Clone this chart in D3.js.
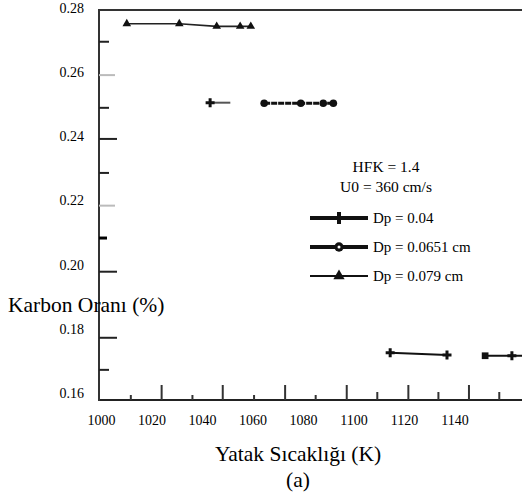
<!DOCTYPE html>
<html>
<head>
<meta charset="utf-8">
<script src="https://cdn.jsdelivr.net/npm/d3@7"></script>
<style>
  body { margin: 0; background: #fff; }
  svg { display: block; font-family: "Liberation Serif", "Times New Roman", serif; }
</style>
</head>
<body>
<div id="chart"></div>
<script>
// data
var tempTriangle = [1010.0, 1030.8, 1045.6, 1054.9, 1059.1];
var carbonTriangle = [0.2751, 0.2751, 0.2743, 0.2743, 0.2743];

var tempCircle = [1043.0, 1064.4, 1078.9, 1087.8, 1091.8];
var carbonCircle = [0.2505, 0.2503, 0.2503, 0.2503, 0.2503];

var tempPlus = [1114.3, 1136.8, 1151.9, 1162.5, 1172.0];
var carbonPlus = [0.1725, 0.1718, 0.1716, 0.1716, 0.1716];

var xTickLabels = [1000, 1020, 1040, 1060, 1080, 1100, 1120, 1140];
var yTickLabels = [0.16, 0.18, 0.20, 0.22, 0.24, 0.26, 0.28];
var xMinorTicks = [1011.6, 1023.8, 1036.0, 1048.0, 1060.4, 1072.7, 1084.8, 1097.1, 1109.2, 1121.5, 1133.4, 1145.5, 1157.5];
var yMinorTicks = [0.2695, 0.2591, 0.2489, 0.2392, 0.2286, 0.2184, 0.2083, 0.1978, 0.1772, 0.1672];

var legendLabels = ['Dp = 0.04', 'Dp = 0.0651 cm', 'Dp = 0.079 cm'];
var noteLines = ['HFK = 1.4', 'U0 = 360 cm/s'];

// layout / styles
var W = 522, H = 493;
var pLeft = 99, pRight = 522, pTop = 10, pBottom = 400;
var xTickLen = [5, 15, 5, 15, 5, 15, 5, 15, 8, 15, 8, 15, 8];
var yTickLen = [10, 16, 10, 18, 10, 16, 8, 18, 18, 10];
var yTickCol = ['#222', '#bbb', '#222', '#222', '#222', '#bbb', '#000', '#222', '#222', '#222'];
var yTickW = [2, 2, 2, 2, 2, 2, 3, 2, 2, 2];

var x = d3.scaleLinear().domain([999.0, 1166.5]).range([pLeft, pRight]);
var y = d3.scaleLinear().domain([0.1578, 0.2794]).range([pBottom, pTop]);

var svg = d3.select('#chart').append('svg')
    .attr('width', W)
    .attr('height', H);

svg.append('defs').append('clipPath').attr('id', 'plotclip')
    .append('rect')
    .attr('x', pLeft).attr('y', 0)
    .attr('width', pRight - pLeft).attr('height', pBottom);

// frame lines
svg.append('line')
    .attr('x1', pLeft).attr('x2', pRight).attr('y1', pTop).attr('y2', pTop)
    .style('stroke', '#333').style('stroke-width', 2);
svg.append('line')
    .attr('x1', pLeft).attr('x2', pRight).attr('y1', pBottom).attr('y2', pBottom)
    .style('stroke', '#222').style('stroke-width', 2);
svg.append('line')
    .attr('x1', pLeft).attr('x2', pLeft).attr('y1', pTop - 1).attr('y2', pBottom + 1)
    .style('stroke', '#333').style('stroke-width', 2);

// inward ticks
svg.append('g').selectAll('line')
    .data(xMinorTicks)
    .enter()
    .append('line')
    .attr('x1', function (d) { return x(d); })
    .attr('x2', function (d) { return x(d); })
    .attr('y1', pBottom)
    .attr('y2', function (d, i) { return pBottom - xTickLen[i]; })
    .style('stroke', '#333')
    .style('stroke-width', 2);

svg.append('g').selectAll('line')
    .data(yMinorTicks)
    .enter()
    .append('line')
    .attr('x1', pLeft)
    .attr('x2', function (d, i) { return pLeft + yTickLen[i]; })
    .attr('y1', function (d) { return y(d); })
    .attr('y2', function (d) { return y(d); })
    .style('stroke', function (d, i) { return yTickCol[i]; })
    .style('stroke-width', function (d, i) { return yTickW[i]; });

// tick labels
svg.append('g').selectAll('text')
    .data(xTickLabels)
    .enter()
    .append('text')
    .attr('x', function (d) { return x(d); })
    .attr('y', 425)
    .attr('text-anchor', 'middle')
    .style('font-size', '14px')
    .text(function (d) { return d; });

svg.append('g').selectAll('text')
    .data(yTickLabels)
    .enter()
    .append('text')
    .attr('x', 84)
    .attr('y', function (d) { return y(d); })
    .attr('dy', '0.35em')
    .attr('text-anchor', 'end')
    .style('font-size', '14px')
    .text(function (d) { return d.toFixed(2); });

// axis titles
svg.append('text')
    .attr('x', 8).attr('y', 304).attr('dy', '0.35em')
    .style('font-size', '21.5px')
    .text('Karbon Oranı (%)');

svg.append('text')
    .attr('x', 298).attr('y', 453).attr('dy', '0.35em')
    .attr('text-anchor', 'middle')
    .style('font-size', '21.5px')
    .text('Yatak Sıcaklığı (K)');

svg.append('text')
    .attr('x', 298).attr('y', 479).attr('dy', '0.35em')
    .attr('text-anchor', 'middle')
    .style('font-size', '21.5px')
    .text('(a)');

// series
var plot = svg.append('g').attr('clip-path', 'url(#plotclip)');

function toPoints(xs, ys) {
    return xs.map(function (d, i) { return [d, ys[i]]; });
}

var line = d3.line()
    .x(function (d) { return x(d[0]); })
    .y(function (d) { return y(d[1]); });

var triPts = toPoints(tempTriangle, carbonTriangle);
var cirPts = toPoints(tempCircle, carbonCircle);
var plusPts = toPoints(tempPlus, carbonPlus);

var symTri = d3.symbol().type(d3.symbolTriangle).size(32);
var symCir = d3.symbol().type(d3.symbolCircle).size(45);
var symPlus = d3.symbol().type(d3.symbolCross).size(45);
var symSq = d3.symbol().type(d3.symbolSquare).size(45);

// triangle series: one line through all points
plot.append('path')
    .attr('d', line(triPts))
    .style('fill', 'none').style('stroke', '#222').style('stroke-width', 1.6);

// circle series: first point stands apart with a short tail
plot.append('path')
    .attr('d', line(cirPts.slice(1)))
    .style('fill', 'none').style('stroke', '#111').style('stroke-width', 3)
    .style('stroke-dasharray', '6,1');
plot.append('path')
    .attr('d', line([cirPts[0], [cirPts[0][0] + 8, cirPts[0][1]]]))
    .style('fill', 'none').style('stroke', '#555').style('stroke-width', 2);

// plus series: two groups
plot.append('path')
    .attr('d', line(plusPts.slice(0, 2)))
    .style('fill', 'none').style('stroke', '#111').style('stroke-width', 2);
plot.append('path')
    .attr('d', line(plusPts.slice(2)))
    .style('fill', 'none').style('stroke', '#111').style('stroke-width', 2);

plot.append('g').selectAll('path')
    .data(triPts)
    .enter()
    .append('path')
    .attr('transform', function (d) { return 'translate(' + x(d[0]) + ',' + y(d[1]) + ')'; })
    .attr('d', symTri)
    .style('fill', '#111');

plot.append('g').selectAll('path')
    .data(cirPts)
    .enter()
    .append('path')
    .attr('transform', function (d) { return 'translate(' + x(d[0]) + ',' + y(d[1]) + ')'; })
    .attr('d', function (d, i) { return i === 0 ? symPlus() : symCir(); })
    .style('fill', '#111');

plot.append('g').selectAll('path')
    .data(plusPts)
    .enter()
    .append('path')
    .attr('transform', function (d) { return 'translate(' + x(d[0]) + ',' + y(d[1]) + ')'; })
    .attr('d', function (d, i) { return i === 2 ? symSq() : symPlus(); })
    .style('fill', '#111');

// note + legend
svg.append('g').selectAll('text')
    .data(noteLines)
    .enter()
    .append('text')
    .attr('x', 386)
    .attr('y', function (d, i) { return 167 + i * 20; })
    .attr('dy', '0.35em')
    .attr('text-anchor', 'middle')
    .style('font-size', '15.5px')
    .text(function (d) { return d; });

var legendY = [218, 247, 276];
var legendW = [4, 4, 2];
var legendSym = [
    d3.symbol().type(d3.symbolCross).size(80),
    d3.symbol().type(d3.symbolCircle).size(70),
    d3.symbol().type(d3.symbolTriangle).size(55)
];

var leg = svg.append('g').selectAll('g')
    .data(legendLabels)
    .enter()
    .append('g')
    .attr('transform', function (d, i) { return 'translate(0,' + legendY[i] + ')'; });

leg.append('line')
    .attr('x1', 310).attr('x2', 368)
    .style('stroke', '#111')
    .style('stroke-width', function (d, i) { return legendW[i]; });

leg.append('path')
    .attr('transform', 'translate(339,0)')
    .attr('d', function (d, i) { return legendSym[i](); })
    .style('fill', '#111');

leg.filter(function (d, i) { return i === 1; })
    .append('circle')
    .attr('cx', 339).attr('r', 1.5)
    .style('fill', '#fff');

leg.append('text')
    .attr('x', 373)
    .attr('dy', '0.35em')
    .style('font-size', '15px')
    .text(function (d) { return d; });
</script>
</body>
</html>
